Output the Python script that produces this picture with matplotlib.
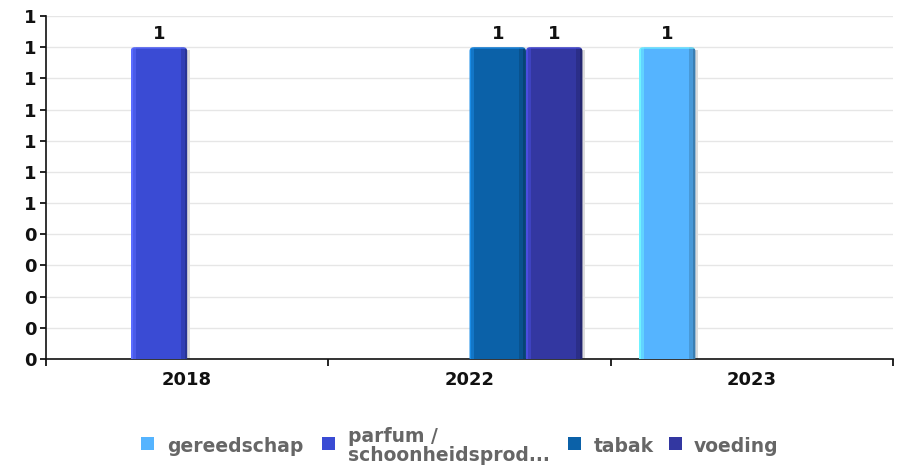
import numpy as np
import math
import matplotlib
matplotlib.use('Agg')
import matplotlib.pyplot as plt
from matplotlib.patches import Rectangle, FancyBboxPatch
from matplotlib.ticker import FuncFormatter, FixedLocator
from matplotlib.colors import to_rgb

# ---- data ----
years = ['2018', '2022', '2023']
series_names = ['gereedschap', 'parfum /\nschoonheidsprod...', 'tabak', 'voeding']
gereedschap = [0, 0, 1]
parfum = [1, 0, 0]
tabak = [0, 1, 0]
voeding = [0, 1, 0]
values = [gereedschap, parfum, tabak, voeding]
colors = ['#55b4ff', '#3a4bd4', '#0b61a8', '#3337a1']
light_edge = ['#6ff2ff', '#5a6cff', '#1a8ce6', '#4a4ee0']
yticks = np.round(np.arange(0, 1.11, 0.1), 2)

W, H, DPI = 903, 467, 100
fig = plt.figure(figsize=(W / DPI, H / DPI), dpi=DPI)
L, R, T, B = 46, 893, 16, 359
ax = fig.add_axes([L / W, 1 - B / H, (R - L) / W, (B - T) / H])

n = len(values)
bw = 0.2
x = np.arange(len(years))
ax.set_xlim(-0.5, len(years) - 0.5)
ax.set_ylim(0, yticks[-1])

# data units per pixel
xpp = len(years) / (R - L)
ypp = yticks[-1] / (B - T)

def shade(c, f):
    r = np.array(to_rgb(c))
    if f >= 0:
        return r + (1 - r) * f
    return r * (1 + f)

for i, (vals, c, le) in enumerate(zip(values, colors, light_edge)):
    xs = x + (i - (n - 1) / 2) * bw
    bars = ax.bar(xs, vals, width=bw, color=c, zorder=3, linewidth=0)
    for b, v in zip(bars, vals):
        if v <= 0:
            continue
        b.set_alpha(0)
        x0, y0 = b.get_x(), b.get_y()
        w, h = b.get_width(), b.get_height()
        clip = FancyBboxPatch((x0, y0 - 10 * ypp), w, h + 10 * ypp,
                              boxstyle='round,pad=0,rounding_size=%f' % (4 * xpp),
                              mutation_aspect=ypp / xpp, transform=ax.transData,
                              facecolor='none', edgecolor='none')
        ax.add_patch(clip)
        ncol, nrow = 56, 300
        img = np.zeros((nrow, ncol, 4))
        base = np.array(to_rgb(c))
        lec = np.array(to_rgb(le))
        for j in range(ncol):
            if j < 2:
                col = lec
            elif j < 5:
                col = 0.5 * lec + 0.5 * base
            elif j >= ncol - 3:
                col = shade(c, -0.3)
            elif j >= ncol - 7:
                col = shade(c, -0.15)
            else:
                col = base
            img[:, j, :3] = col
        img[:, :, 3] = 1
        img[:2, :, :3] = 0.4 * img[:2, :, :3] + 0.6 * lec
        im = ax.imshow(img, extent=(x0, x0 + w, y0, y0 + h), aspect='auto',
                       origin='upper', zorder=4, interpolation='nearest')
        im.set_clip_path(clip)
        # shadow
        ax.add_patch(Rectangle((x0 + w, y0), 3 * xpp, h - 3 * ypp, color='#dcdcdc',
                               zorder=2, linewidth=0))
        ax.text(x0 + w / 2, v + 4 * ypp, '%d' % v, ha='center', va='bottom',
                fontsize=13, fontweight='bold', color='#111111', zorder=5)

ax.set_xlim(-0.5, len(years) - 0.5)
ax.set_ylim(0, yticks[-1])

ax.yaxis.set_major_locator(FixedLocator(yticks))
ax.yaxis.set_major_formatter(FuncFormatter(lambda v, p: str(int(math.floor(v + 0.5 + 1e-9)))))
ax.grid(axis='y', color='#e6e6e6', linewidth=1, zorder=0)
ax.set_axisbelow(True)

ax.set_xticks(x)
ax.set_xticklabels(years)
ax.set_xticks(np.arange(-0.5, len(years)), minor=True)
ax.tick_params(axis='x', which='major', length=0, pad=8.5, labelsize=13)
ax.tick_params(axis='x', which='minor', length=5, width=1.2, direction='out')
ax.tick_params(axis='y', length=4, width=1.2, direction='out', labelsize=13, pad=3)
for lab in ax.get_xticklabels() + ax.get_yticklabels():
    lab.set_fontweight('bold')
    lab.set_color('#111111')

for s in ['top', 'right']:
    ax.spines[s].set_visible(False)
for s in ['left', 'bottom']:
    ax.spines[s].set_linewidth(1.2)
    ax.spines[s].set_color('#111111')

# ---- legend (manual layout) ----
leg_y = 446
sq_cy = 443.5
sq = 13
sq_x = [141, 322, 568, 669]
txt_x = [167, 348, 594, 694]
for name, c, sx, tx in zip(series_names, colors, sq_x, txt_x):
    fig.add_artist(Rectangle((sx / W, 1 - (sq_cy + sq / 2) / H), sq / W, sq / H,
                             transform=fig.transFigure, color=c, linewidth=0))
    fig.text(tx / W, 1 - leg_y / H, name, ha='left', va='center', fontsize=13.5,
             fontweight='bold', color='#666666', linespacing=1.05)

fig.savefig('out.png', dpi=DPI)
